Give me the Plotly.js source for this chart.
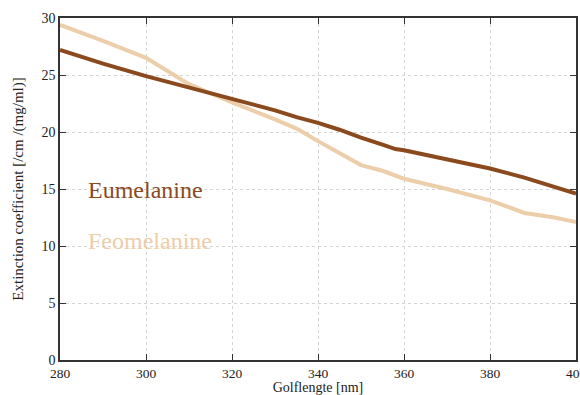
<!DOCTYPE html>
<html><head><meta charset="utf-8">
<script src="https://cdn.plot.ly/plotly-3.0.1.min.js"></script>
<style>html,body{margin:0;padding:0;background:#fff}#chart{width:580px;height:395px}</style>
</head><body><div id="chart"></div>
<script>
const wavelength = [280, 290, 300, 305, 310, 315, 320, 330, 335, 340, 345, 350, 355, 358, 360, 370, 380, 388, 395, 400];
const eumelanine = [27.2, 26.0, 24.9, 24.4, 23.9, 23.4, 22.9, 21.9, 21.3, 20.8, 20.2, 19.5, 18.9, 18.5, 18.4, 17.6, 16.8, 16.0, 15.2, 14.6];
const feomelanine = [29.4, 28.0, 26.5, 25.3, 24.2, 23.4, 22.6, 21.1, 20.3, 19.2, 18.1, 17.1, 16.6, 16.2, 15.9, 15.0, 14.0, 12.9, 12.5, 12.1];
const seriesNames = ["Eumelanine", "Feomelanine"];
const xTicks = [280, 300, 320, 340, 360, 380, 400];
const yTicks = [0, 5, 10, 15, 20, 25, 30];

const eColor = "#8a4a1e", fColor = "#ecceaa";
const serif = "Liberation Serif, Times New Roman, serif";

const traces = [
  {x: wavelength, y: feomelanine, mode: "lines", name: seriesNames[1], line: {color: fColor, width: 4}},
  {x: wavelength, y: eumelanine, mode: "lines", name: seriesNames[0], line: {color: eColor, width: 4}}
];
const axisCommon = {
  showline: true, linecolor: "#333", linewidth: 1.8, mirror: "ticks",
  ticks: "inside", ticklen: 6, tickcolor: "#333",
  showgrid: true, gridcolor: "#d4d4d4", griddash: "dot", gridwidth: 1,
  zeroline: false, tickfont: {family: serif, size: 14, color: "#222"},
  ticklabeloverflow: "allow"
};
const layout = {
  width: 580, height: 395,
  margin: {l: 60, r: 4, t: 18, b: 35},
  paper_bgcolor: "#fff", plot_bgcolor: "#fff",
  showlegend: false,
  xaxis: Object.assign({}, axisCommon, {range: [280, 400], tickvals: xTicks, ticktext: xTicks.map(String),
    tickfont: {family: serif, size: 13.5, color: "#222"},
    title: {text: "Golflengte [nm]", font: {family: serif, size: 14, color: "#222"}, standoff: 4}}),
  yaxis: Object.assign({}, axisCommon, {range: [0, 30], tickvals: yTicks, ticktext: yTicks.map(String),
    title: {text: "Extinction coefficient [/cm /(mg/ml)]", font: {family: serif, size: 15, color: "#222"}, standoff: 14}}),
  annotations: [
    {x: 286.0, y: 14.9, xref: "x", yref: "y", xanchor: "left", yanchor: "middle", showarrow: false,
     text: seriesNames[0], font: {family: serif, size: 24, color: eColor}},
    {x: 286.0, y: 10.4, xref: "x", yref: "y", xanchor: "left", yanchor: "middle", showarrow: false,
     text: seriesNames[1], font: {family: serif, size: 24, color: fColor}}
  ]
};
Plotly.newPlot("chart", traces, layout, {displayModeBar: false, staticPlot: true});
</script></body></html>
